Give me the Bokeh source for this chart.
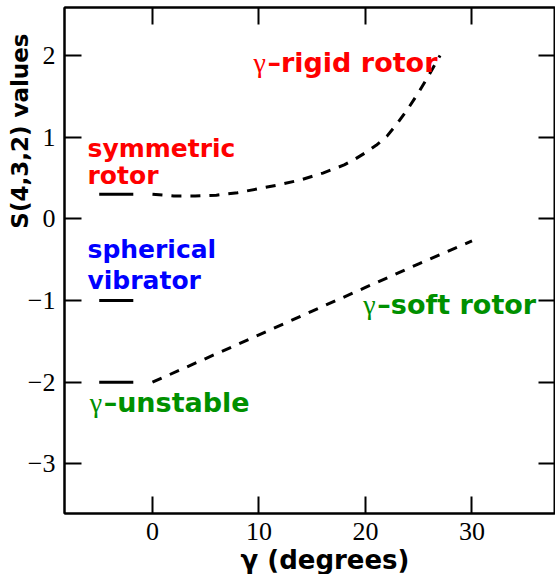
import math
from bokeh.plotting import figure
from bokeh.models import FixedTicker, LinearAxis, Title, ColumnDataSource
from bokeh.core.properties import value
from bokeh.embed import file_html
from bokeh.resources import INLINE

# ---- data ----
upper_x = [0, 2, 4, 6, 8, 10, 12, 14, 16, 18, 19, 20, 21, 22, 23, 24, 25, 26, 27]
upper_y = [0.30, 0.28, 0.28, 0.29, 0.32, 0.37, 0.42, 0.48, 0.56, 0.66, 0.73, 0.81, 0.90, 1.01, 1.17, 1.35, 1.55, 1.77, 2.0]

lower_x = [0, 5, 10, 15, 20, 25, 30]
lower_y = [-2.0, -1.71, -1.42, -1.13, -0.84, -0.55, -0.27]

limit_x0 = [-5.0, -5.0, -5.0]
limit_x1 = [-1.8, -1.8, -1.8]
limit_y = [0.30, -1.0, -2.0]

x_ticks = [0, 10, 20, 30]
y_ticks = [-3, -2, -1, 0, 1, 2]
y_tick_labels = {-3: "\u22123", -2: "\u22122", -1: "\u22121", 0: "0", 1: "1", 2: "2"}

plain_text = ["symmetric", "rotor", "spherical", "vibrator"]
plain_x = [-6.1, -6.1, -6.1, -6.1]
plain_y = [0.86, 0.53, -0.37, -0.76]
plain_color = ["#ff0000", "#ff0000", "#0000ff", "#0000ff"]

gamma_text = ["\u2013rigid rotor", "\u2013unstable", "\u2013soft rotor"]
gamma_x = [9.48, -5.9, 19.8]
gamma_y = [1.91, -2.25, -1.05]
gamma_color = ["#ff0000", "#009000", "#009000"]

x_label = "\u03b3 (degrees)"
y_label = "S(4,3,2) values"

# ---- figure ----
p = figure(width=555, height=574, x_range=(-8.26, 37.84), y_range=(-3.607, 2.587),
           output_backend="svg", toolbar_location=None,
           min_border_left=64, min_border_right=0, min_border_top=7, min_border_bottom=60)
p.background_fill_color = "white"
p.border_fill_color = "white"
p.xgrid.visible = False
p.ygrid.visible = False
p.outline_line_color = "black"
p.outline_line_width = 2

for ax in p.xaxis:
    ax.ticker = FixedTicker(ticks=x_ticks)
for ax in p.yaxis:
    ax.ticker = FixedTicker(ticks=y_ticks)
    ax.major_label_overrides = y_tick_labels

for ax in list(p.xaxis) + list(p.yaxis):
    ax.major_tick_in = 17
    ax.major_tick_out = 0
    ax.minor_tick_line_color = None
    ax.major_tick_line_width = 2
    ax.axis_line_width = 2
    ax.major_label_text_font = "Liberation Serif"
    ax.major_label_text_font_size = "26px"
    ax.major_label_text_color = "black"
    ax.major_label_standoff = 9

top = LinearAxis(ticker=FixedTicker(ticks=x_ticks))
right = LinearAxis(ticker=FixedTicker(ticks=y_ticks))
for ax in (top, right):
    ax.major_tick_in = 17
    ax.major_tick_out = 0
    ax.minor_tick_line_color = None
    ax.major_tick_line_width = 2
    ax.axis_line_width = 2
    ax.major_label_text_font_size = "0px"
    ax.major_label_text_color = None
    ax.major_label_standoff = 0
p.add_layout(top, "above")
p.add_layout(right, "right")

# axis titles as side titles (positioned along the axes with an offset)
yt = Title(text=y_label, align="right", offset=26, standoff=-16,
           text_font="DejaVu Sans", text_font_style="bold", text_font_size="23px",
           text_color="black")
p.add_layout(yt, "left")
xt = Title(text=x_label, align="left", offset=176, standoff=0,
           text_font="DejaVu Sans", text_font_style="bold", text_font_size="26px",
           text_color="black")
p.add_layout(xt, "below")

# ---- lines ----
p.line(upper_x, upper_y, line_color="black", line_width=3, line_dash="10 9")
p.line(lower_x, lower_y, line_color="black", line_width=3, line_dash="10 9")
p.segment(x0=limit_x0, y0=limit_y, x1=limit_x1, y1=limit_y, line_color="black", line_width=3)

# ---- in-plot labels ----
src_plain = ColumnDataSource(dict(x=plain_x, y=plain_y, t=plain_text, c=plain_color))
p.text(x="x", y="y", text="t", text_color="c", source=src_plain,
       text_font=value("DejaVu Sans"), text_font_style="bold", text_font_size="25px",
       text_baseline="alphabetic", text_align="left")

src_g = ColumnDataSource(dict(x=gamma_x, y=gamma_y, t=gamma_text, c=gamma_color,
                              g=["\u03b3"] * len(gamma_x)))
p.text(x="x", y="y", text="g", text_color="c", source=src_g,
       text_font=value("Liberation Serif"), text_font_size="28px",
       text_baseline="alphabetic", text_align="left")
p.text(x="x", y="y", text="t", text_color="c", source=src_g, x_offset=14,
       text_font=value("DejaVu Sans"), text_font_style="bold", text_font_size="27px",
       text_baseline="alphabetic", text_align="left")

open("out.html", "w").write(file_html(p, INLINE))
